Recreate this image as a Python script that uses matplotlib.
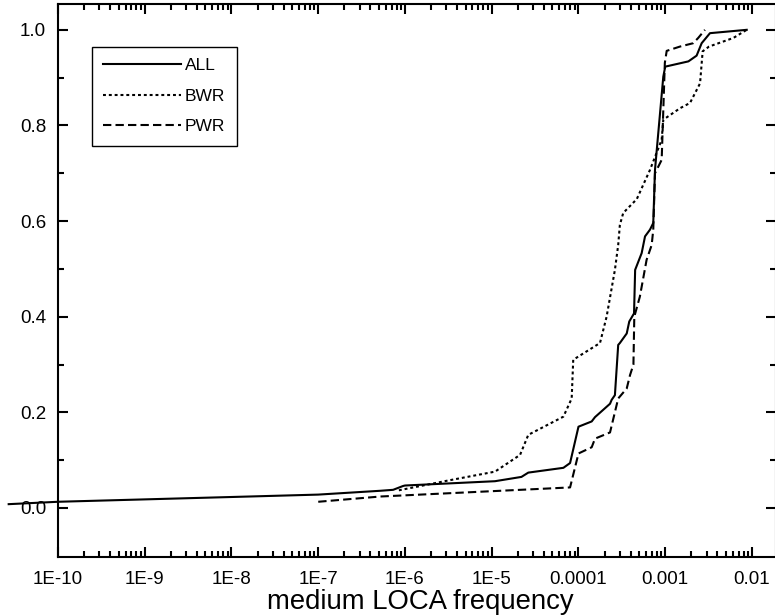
import numpy as np
import matplotlib
matplotlib.use("Agg")
import matplotlib.pyplot as plt
from matplotlib.ticker import FixedLocator, LogLocator, NullFormatter, FuncFormatter

plt.rcParams['font.family'] = ['Liberation Sans', 'DejaVu Sans']

# cumulative distributions (x = medium LOCA frequency)
all_x = [2.7e-11, 1.0e-10, 1.6e-8, 1.0e-7, 5.2e-7, 7.3e-7, 9.5e-7, 1.0e-6, 1.09e-5,
         2.2e-5, 2.64e-5, 6.7e-5, 8.0e-5, 1.0e-4, 1.42e-4, 1.55e-4, 2.31e-4, 2.41e-4,
         2.63e-4, 2.87e-4, 3.0e-4, 3.6e-4, 3.85e-4, 4.37e-4, 4.5e-4, 5.35e-4, 5.85e-4,
         6.67e-4, 7.28e-4, 7.62e-4, 9.5e-4, 1.0e-3, 1.48e-3, 1.85e-3, 2.3e-3, 2.63e-3,
         3.28e-3, 8.7e-3]
all_y = [0.008, 0.013, 0.024, 0.028, 0.036, 0.038, 0.046, 0.047, 0.056,
         0.065, 0.074, 0.084, 0.094, 0.170, 0.181, 0.190, 0.218, 0.226,
         0.236, 0.341, 0.345, 0.365, 0.390, 0.407, 0.498, 0.533, 0.568,
         0.582, 0.596, 0.707, 0.902, 0.923, 0.930, 0.934, 0.946, 0.972,
         0.993, 1.0]

bwr_x = [8.5e-7, 3.05e-6, 1.09e-5, 2.12e-5, 2.64e-5, 6.7e-5, 8.35e-5, 8.7e-5, 1.77e-4,
         2.11e-4, 2.63e-4, 2.87e-4, 3.0e-4, 3.28e-4, 4.7e-4, 6.67e-4, 9.1e-4, 9.5e-4,
         1.48e-3, 1.93e-3, 2.52e-3, 2.7e-3, 3.2e-3, 6.1e-3, 8.7e-3]
bwr_y = [0.037, 0.057, 0.076, 0.111, 0.153, 0.191, 0.229, 0.310, 0.345,
         0.400, 0.498, 0.550, 0.592, 0.617, 0.646, 0.707, 0.770, 0.812,
         0.836, 0.847, 0.888, 0.955, 0.965, 0.983, 1.0]

pwr_x = [1.0e-7, 5.2e-7, 2.8e-5, 8.0e-5, 1.0e-4, 1.42e-4, 1.55e-4, 2.31e-4, 2.87e-4,
         3.6e-4, 3.93e-4, 4.3e-4, 4.4e-4, 5.1e-4, 6.1e-4, 6.98e-4, 7.28e-4, 7.62e-4,
         9.1e-4, 9.9e-4, 1.04e-3, 1.48e-3, 2.1e-3, 2.4e-3, 2.87e-3]
pwr_y = [0.013, 0.024, 0.039, 0.043, 0.114, 0.127, 0.145, 0.158, 0.229,
         0.250, 0.278, 0.300, 0.400, 0.442, 0.519, 0.550, 0.582, 0.700,
         0.728, 0.931, 0.956, 0.965, 0.972, 0.983, 1.0]

x_ticks = [1e-10, 1e-9, 1e-8, 1e-7, 1e-6, 1e-5, 1e-4, 1e-3, 1e-2]
x_tick_labels = ['1E-10', '1E-9', '1E-8', '1E-7', '1E-6', '1E-5', '0.0001', '0.001', '0.01']
y_ticks = [0.0, 0.2, 0.4, 0.6, 0.8, 1.0]

fig = plt.figure(figsize=(7.75, 6.16), dpi=100)
ax = fig.add_axes([58 / 775, 1 - 557 / 616, 718 / 775, 553 / 616])

ax.plot(all_x, all_y, color='black', lw=1.5, ls='-', label='ALL', clip_on=False)
ax.plot(bwr_x, bwr_y, color='black', lw=1.5, ls=(0, (1.4, 1.4)), label='BWR')
ax.plot(pwr_x, pwr_y, color='black', lw=1.5, ls=(0, (4, 2)), label='PWR')

ax.set_xscale('log')
ax.set_xlim(1e-10, 10 ** -1.723)
ax.set_ylim(-0.1025, 1.054)

ax.xaxis.set_major_locator(FixedLocator(x_ticks))
ax.xaxis.set_major_formatter(FuncFormatter(lambda v, p: x_tick_labels[x_ticks.index(v)] if v in x_ticks else ''))
ax.xaxis.set_minor_locator(LogLocator(base=10, subs=np.arange(2, 10), numticks=30))
ax.xaxis.set_minor_formatter(NullFormatter())
ax.set_yticks(y_ticks)
ax.set_yticks([0.1, 0.3, 0.5, 0.7, 0.9], minor=True)
ax.yaxis.set_major_formatter(FuncFormatter(lambda v, p: f'{v:.1f}'))

ax.tick_params(which='both', direction='in', top=True, right=True, width=1.5, labelsize=13.5)
ax.tick_params(which='major', length=7)
ax.tick_params(which='minor', length=4)
ax.tick_params(axis='x', which='major', pad=10)
ax.tick_params(axis='y', which='major', pad=8.5)
for s in ax.spines.values():
    s.set_linewidth(1.5)

ax.set_xlabel('medium LOCA frequency', fontsize=19.8)
ax.xaxis.set_label_coords((420 - 58) / 718, (557 - 589) / 553)

leg = ax.legend(loc='upper left', bbox_to_anchor=(92 / 775, 1 - 47 / 616),
                bbox_transform=fig.transFigure, borderaxespad=0, fontsize=12.5,
                handlelength=4.5, handletextpad=0.2, borderpad=0.65, labelspacing=0.88,
                fancybox=False, framealpha=1, edgecolor='black')
leg.get_frame().set_linewidth(1.0)

fig.savefig('out.png', dpi=100)
